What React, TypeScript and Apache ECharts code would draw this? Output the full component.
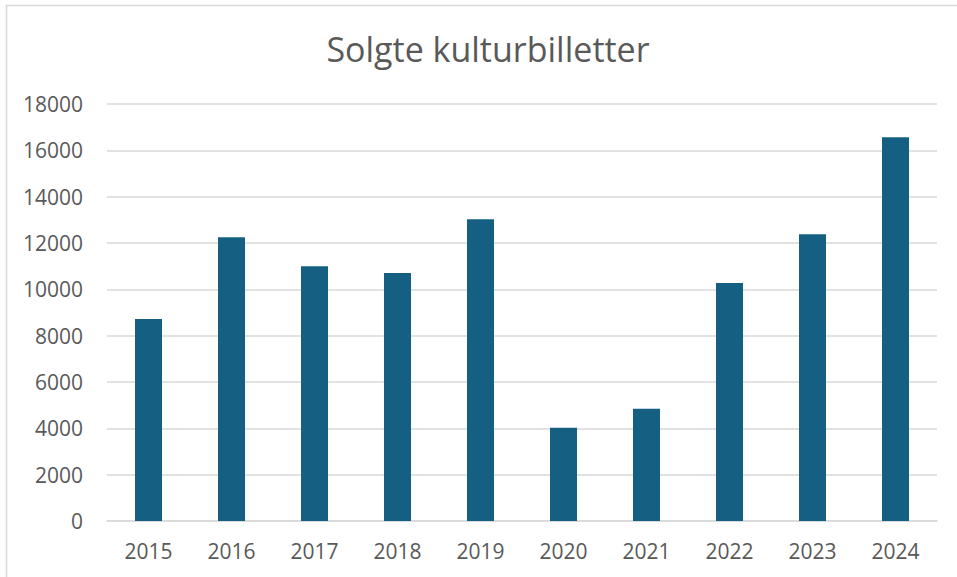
import React, { useEffect, useRef } from "react";
import * as echarts from "echarts";

const titleText = "Solgte kulturbilletter";
const years = ["2015", "2016", "2017", "2018", "2019", "2020", "2021", "2022", "2023", "2024"];
const tickets = [8720, 12250, 11000, 10700, 13030, 4020, 4840, 10270, 12380, 16560];
const yMin = 0;
const yMax = 18000;
const yStep = 2000;

const FONT = "'Open Sans', 'Noto Sans', sans-serif";
const TEXT_COLOR = "#595959";
const GRID_COLOR = "#d9d9d9";
const BAR_COLOR = "#156082";

export default function App() {
  const ref = useRef<HTMLDivElement>(null);

  useEffect(() => {
    if (!ref.current) return;
    const chart = echarts.init(ref.current, null, { renderer: "svg" });
    chart.setOption({
      animation: false,
      backgroundColor: "#ffffff",
      textStyle: { fontFamily: FONT },
      title: {
        text: titleText,
        left: 483,
        textAlign: "center",
        top: 27,
        textStyle: { fontFamily: FONT, fontSize: 34, fontWeight: "normal", color: TEXT_COLOR },
      },
      graphic: [
        {
          type: "rect",
          shape: { x: 6.5, y: 5.5, width: 1000, height: 700 },
          style: { fill: "none", stroke: GRID_COLOR, lineWidth: 1.5 },
          silent: true,
          z: -1,
        },
      ],
      grid: { left: 107, right: 20, top: 104, bottom: 56, containLabel: false },
      xAxis: {
        type: "category",
        data: years,
        axisLine: { show: true, lineStyle: { color: GRID_COLOR, width: 1.5 } },
        axisTick: { show: false },
        axisLabel: { color: TEXT_COLOR, fontSize: 21, fontFamily: FONT, margin: 19 },
      },
      yAxis: {
        type: "value",
        min: yMin,
        max: yMax,
        interval: yStep,
        axisLine: { show: false },
        axisTick: { show: false },
        axisLabel: {
          color: TEXT_COLOR,
          fontSize: 21,
          fontFamily: FONT,
          margin: 24,
          formatter: (v: number) => String(v),
        },
        splitLine: { lineStyle: { color: GRID_COLOR, width: 1.5 } },
      },
      series: [
        {
          type: "bar",
          data: tickets,
          barWidth: 27,
          itemStyle: { color: BAR_COLOR },
        },
      ],
    });
    return () => chart.dispose();
  }, []);

  return (
    <div
      ref={ref}
      style={{ width: 957, height: 577, position: "absolute", left: 0, top: 0 }}
    />
  );
}
